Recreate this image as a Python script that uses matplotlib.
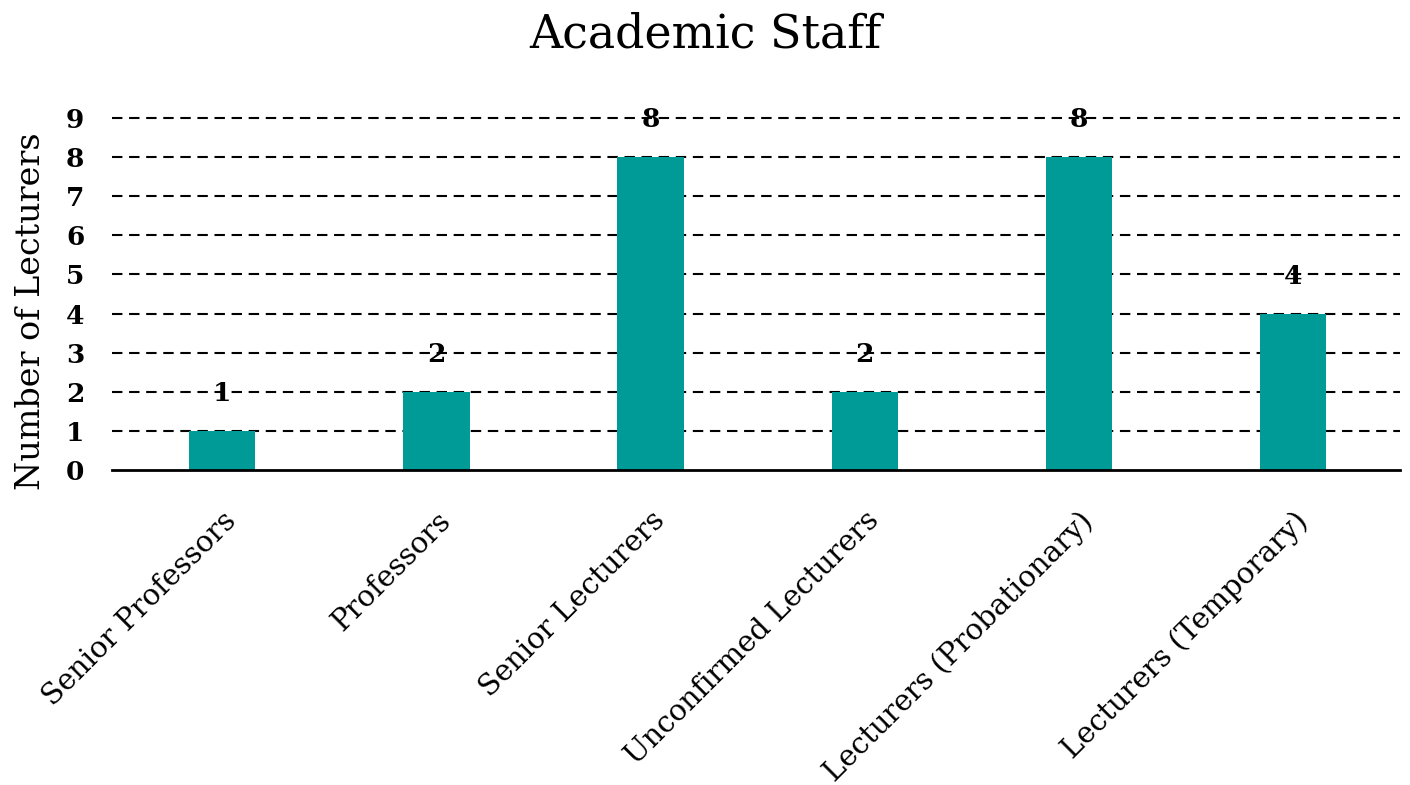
import matplotlib
matplotlib.use('Agg')
import matplotlib.pyplot as plt

categories = ['Senior Professors', 'Professors', 'Senior Lecturers',
              'Unconfirmed Lecturers', 'Lecturers (Probationary)', 'Lecturers (Temporary)']
counts = [1, 2, 8, 2, 8, 4]
yticks = list(range(0, 10))

plt.rcParams['font.family'] = ['DejaVu Serif']

fig = plt.figure(figsize=(14.1, 7.85), dpi=100)
ax = fig.add_axes([0.0794, 0.401, 0.9136, 0.449])

x = list(range(len(categories)))
ax.bar(x, counts, width=0.31, color='#009A97', zorder=2)

# dashed gridlines at each whole number, solid baseline at zero
for v in yticks[1:]:
    ax.axhline(v, color='black', lw=1.5, ls=(0, (5, 3.2)), zorder=1, clip_on=False)
ax.axhline(0, color='black', lw=2, zorder=3, clip_on=False)

for xi, v in zip(x, counts):
    ax.text(xi, v + 0.95, str(v), ha='center', va='center',
            fontsize=19, fontweight='bold', zorder=4)

ax.set_xlim(-0.515, 5.5)
ax.set_ylim(0, 9)
ax.set_yticks(yticks)
ax.set_yticklabels([str(t) for t in yticks], fontsize=19, fontweight='bold')
ax.tick_params(axis='y', length=0, pad=20)
ax.tick_params(axis='x', length=0, pad=26)
ax.set_xticks(x)
ax.set_xticklabels(categories, rotation=45, ha='right', rotation_mode='anchor',
                   fontsize=21)

for s in ['top', 'right', 'left', 'bottom']:
    ax.spines[s].set_visible(False)

ax.set_ylabel('Number of Lecturers', fontsize=24)
ax.yaxis.set_label_coords(-0.0505, 0.45)
fig.suptitle('Academic Staff', fontsize=33, y=0.985)

plt.savefig('out.png', dpi=100)
